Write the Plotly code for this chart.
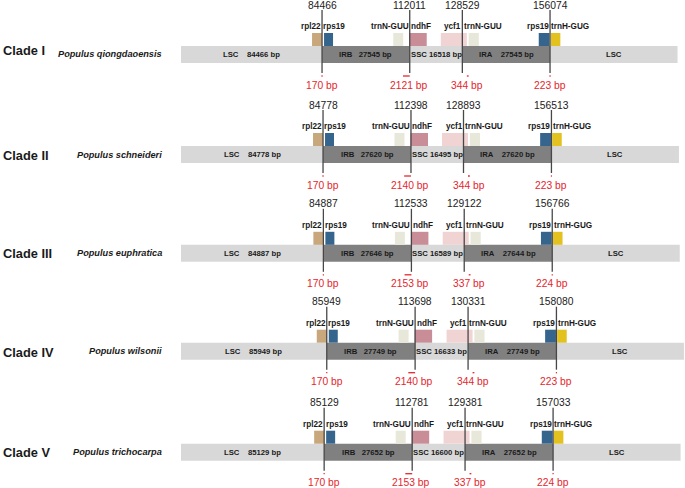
import plotly.graph_objects as go

# ---------------- data ----------------
clades = ["Clade I", "Clade II", "Clade III", "Clade IV", "Clade V"]
species = ["Populus qiongdaoensis", "Populus schneideri", "Populus euphratica",
           "Populus wilsonii", "Populus trichocarpa"]
# junction positions (bp): LSC/IRB, IRB/SSC, SSC/IRA, IRA/LSC
jlb = [84466, 84778, 84887, 85949, 85129]
jbs = [112011, 112398, 112533, 113698, 112781]
jsa = [128529, 128893, 129122, 130331, 129381]
jal = [156074, 156513, 156766, 158080, 157033]
# region lengths (bp)
lsc_len = [84466, 84778, 84887, 85949, 85129]
irb_len = [27545, 27620, 27646, 27749, 27652]
ssc_len = [16518, 16495, 16589, 16633, 16600]
ira_len = [27545, 27620, 27644, 27749, 27652]
# distances shown under each junction (bp)
d_rps19 = [170, 170, 170, 170, 170]
d_ndhF = [2121, 2140, 2153, 2140, 2153]
d_ycf1 = [344, 344, 337, 344, 337]
d_trnH = [223, 223, 224, 223, 224]

# ---------------- layout / style constants ----------------
W, H = 685, 488
PX_PER_BP = 0.003184
X0_PX = 53.1
def px(v):
    return v / PX_PER_BP
def xp(pixel):
    return (pixel - X0_PX) / PX_PER_BP

centers = [54.5, 154.5, 253.3, 351.2, 452.2]
clade_dy = [-4, 1, 0, 1, 0]

LIGHT = "#d8d8d8"
DARK = "#808080"
LINE = "#474747"
RED = "#e5262d"
TXT = "#1a1a1a"
FONT = "Arial, Liberation Sans, sans-serif"

C_RPL22 = "#c9a77c"
C_RPS19 = "#35648c"
C_TRNN = "#e8e8da"
C_NDHF = "#c98d98"
C_YCF1 = "#f0d3d3"
C_TRNH = "#e3c11f"

shapes = []
ann = []

def rect(x0, x1, y0, y1, color):
    shapes.append(dict(type="rect", xref="x", yref="y", x0=x0, x1=x1, y0=y0, y1=y1,
                       fillcolor=color, line=dict(width=0), layer="below"))

def text(x, y, s, size, color=TXT, bold=False, italic=False, xanchor="center"):
    t = s
    if bold:
        t = "<b>" + t + "</b>"
    if italic:
        t = "<i>" + t + "</i>"
    ann.append(dict(x=x, y=y, xref="x", yref="y", text=t, showarrow=False,
                    xanchor=xanchor, yanchor="middle", borderpad=0, borderwidth=0,
                    font=dict(family=FONT, size=size, color=color)))

NB = "\u00a0"
for i in range(5):
    c = centers[i]
    J1, J2, J3, J4 = jlb[i], jbs[i], jsa[i], jal[i]
    left = xp(181)
    right = J4 + px(127.5)
    bt, bb = c - 8.5, c + 8.5
    # genome bar segments
    rect(left, J1, bt, bb, LIGHT)
    rect(J1, J2, bt, bb, DARK)
    rect(J2, J3, bt, bb, LIGHT)
    rect(J3, J4, bt, bb, DARK)
    rect(J4, right, bt, bb, LIGHT)
    # region labels
    text((left + J1) / 2, c, "LSC" + NB * 4 + f"{lsc_len[i]} bp", 7.7, bold=True)
    text((J1 + J2) / 2, c, "IRB" + NB * 3 + f"{irb_len[i]} bp", 7.7, bold=True)
    text((J2 + J3) / 2, c, "SSC " + f"{ssc_len[i]} bp", 7.7, bold=True)
    text((J3 + J4) / 2, c, "IRA" + NB * 4 + f"{ira_len[i]} bp", 7.7, bold=True)
    text((J4 + right) / 2, c, "LSC", 7.7, bold=True)
    # gene boxes (schematic)
    gt, gb = c - 21.5, c - 8.5
    genes = [
        (J1, -10, 0, C_RPL22, "rpl22", "L"),
        (J1, 2, 11, C_RPS19, "rps19", "R"),
        (J2, -16.5, -6.5, C_TRNN, "trnN-GUU", "L"),
        (J2, -0.5, 17, C_NDHF, "ndhF", "R"),
        (J3, -21.5, 4.5, C_YCF1, "ycf1", "L"),
        (J3, 6.3, 16.5, C_TRNN, "trnN-GUU", "R"),
        (J4, -11.3, -0.5, C_RPS19, "rps19", "L"),
        (J4, 0.8, 10.3, C_TRNH, "trnH-GUG", "R"),
    ]
    for (J, a, b, col, name, side) in genes:
        rect(J + px(a), J + px(b), gt, gb, col)
        if side == "L":
            text(J - px(1.0), c - 28, name, 8.2, bold=True, xanchor="right")
        else:
            text(J + px(1.4), c - 28, name, 8.2, bold=True, xanchor="left")
    # junction lines + position labels
    for J in (J1, J2, J3, J4):
        shapes.append(dict(type="line", xref="x", yref="y", x0=J, x1=J,
                           y0=c - 44.5, y1=c + 18.5, line=dict(color=LINE, width=1.3)))
        text(J, c - 49.5, str(J), 10.3, color="#222222")
    # red distance marks
    dy = c + 21.5
    segs = [
        (J1 - max(d_rps19[i], px(1.2)) / 2, J1 + max(d_rps19[i], px(1.2)) / 2),
        (J2 - d_ndhF[i], J2),
        (J3 + px(4.5), J3 + px(4.5) + max(d_ycf1[i], px(1.8))),
        (J4 - max(d_trnH[i], px(1.2)) / 2, J4 + max(d_trnH[i], px(1.2)) / 2),
    ]
    for (a, b) in segs:
        shapes.append(dict(type="line", xref="x", yref="y", x0=a, x1=b, y0=dy, y1=dy,
                           line=dict(color=RED, width=1.3)))
    ry = c + 30.5
    text(J1, ry, f"{d_rps19[i]} bp", 10.3, color=RED)
    text(J2 - px(1.5), ry, f"{d_ndhF[i]} bp", 10.3, color=RED)
    text(J3 + px(5), ry, f"{d_ycf1[i]} bp", 10.3, color=RED)
    text(J4, ry, f"{d_trnH[i]} bp", 10.3, color=RED)
    # clade & species
    text(xp(3), c + clade_dy[i], clades[i], 12.8, bold=True, xanchor="left")
    text(xp(162), c + clade_dy[i] * 0.2, species[i], 9.2, bold=True, italic=True,
         xanchor="right")

fig = go.Figure()
fig.add_trace(go.Scatter(x=[xp(0), xp(W)], y=[0, H], mode="markers",
                         marker=dict(opacity=0), hoverinfo="skip", showlegend=False))
fig.update_layout(
    width=W, height=H, margin=dict(l=0, r=0, t=0, b=0),
    paper_bgcolor="white", plot_bgcolor="white",
    xaxis=dict(range=[xp(0), xp(W)], visible=False, fixedrange=True),
    yaxis=dict(range=[H, 0], visible=False, fixedrange=True),
    shapes=shapes, annotations=ann, showlegend=False,
)
fig.write_html("out.html", config={"displayModeBar": False},
               post_script="document.body.style.margin='0';document.body.style.overflow='hidden';")
